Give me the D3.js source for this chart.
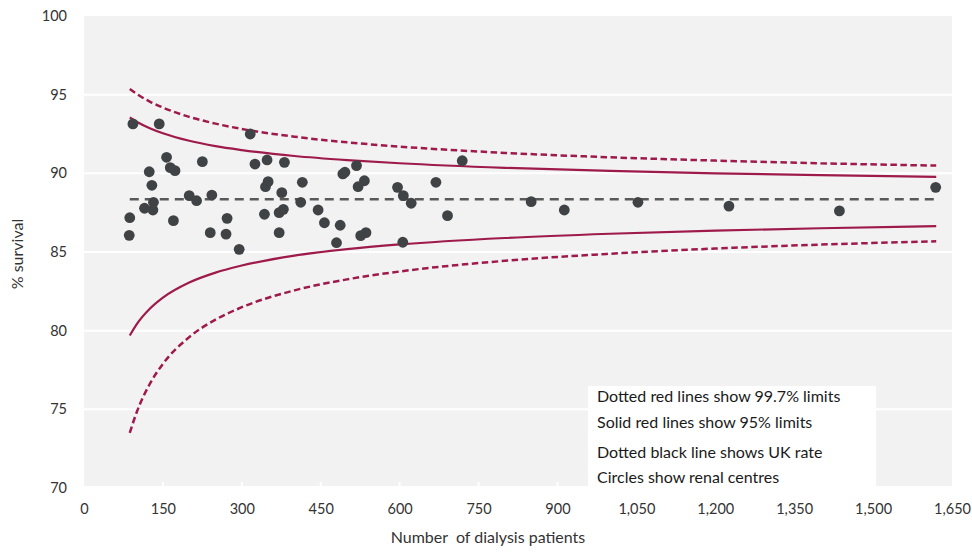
<!DOCTYPE html>
<html>
<head>
<meta charset="utf-8">
<script src="https://cdn.jsdelivr.net/npm/d3@7"></script>
<style>
  html, body { margin: 0; padding: 0; background: #ffffff; }
  svg { display: block; }
  text { font-family: Lato, "Open Sans", "Liberation Sans", sans-serif; }
</style>
</head>
<body>
<svg id="chart" width="972" height="552"></svg>
<script>
// ---- data ----
const centreN = [93, 143, 316, 157, 325, 225, 124, 164, 173, 129, 200, 214, 243, 132, 115, 131, 87, 170, 272, 343, 86, 240, 270, 295,
  348, 381, 350, 345, 415, 376, 412, 379, 371, 445, 457, 487, 371, 496, 492, 518, 533, 521, 536, 526, 480,
  596, 607, 622, 669, 691, 719, 606, 850, 913, 1053, 1226, 1436, 1619];
const centreSurvival = [93.14, 93.14, 92.50, 91.02, 90.59, 90.74, 90.10, 90.36, 90.17, 89.24, 88.58, 88.26, 88.62, 88.16, 87.78, 87.67, 87.18, 86.99, 87.14, 87.40, 86.06, 86.23, 86.14, 85.17,
  90.85, 90.70, 89.47, 89.15, 89.43, 88.77, 88.16, 87.71, 87.50, 87.67, 86.86, 86.70, 86.23, 90.07, 89.96, 90.49, 89.53, 89.15, 86.23, 86.04, 85.59,
  89.11, 88.58, 88.10, 89.43, 87.31, 90.80, 85.62, 88.20, 87.67, 88.16, 87.92, 87.61, 89.11];

const limitN    = [87, 100, 125, 150, 200, 250, 300, 400, 500, 600, 800, 1000, 1200, 1400, 1620];
const upper95   = [93.55, 93.28, 92.87, 92.55, 92.07, 91.73, 91.48, 91.10, 90.84, 90.64, 90.35, 90.15, 90.00, 89.88, 89.78];
const lower95   = [79.69, 80.40, 81.39, 82.10, 83.06, 83.69, 84.14, 84.77, 85.18, 85.48, 85.89, 86.16, 86.36, 86.51, 86.64];
const upper997  = [95.36, 95.05, 94.56, 94.18, 93.59, 93.16, 92.82, 92.33, 91.97, 91.70, 91.30, 91.02, 90.81, 90.64, 90.49];
const lower997  = [73.51, 74.80, 76.61, 77.89, 79.59, 80.70, 81.49, 82.56, 83.26, 83.76, 84.44, 84.89, 85.22, 85.47, 85.68];

const ukRate = 88.35;
const ukRange = [87, 1620];

const xTicks = [0, 150, 300, 450, 600, 750, 900, 1050, 1200, 1350, 1500, 1650];
const yTicks = [70, 75, 80, 85, 90, 95, 100];
const gridValues = [75, 80, 85, 90, 95];

const legendLines = [
  "Dotted red lines show 99.7% limits",
  "Solid red lines show 95% limits",
  "Dotted black line shows UK rate",
  "Circles show renal centres"
];

// ---- chart ----
const svg = d3.select("#chart");
const x = d3.scaleLinear().domain([0, 1650]).range([84, 952]);
const y = d3.scaleLinear().domain([70, 100]).range([488, 16]);

const red = "#9e1a4b";
const textColor = "#333333";

// plot area
svg.append("rect")
  .attr("x", x(0)).attr("y", y(100))
  .attr("width", x(1650) - x(0)).attr("height", 486 - y(100))
  .attr("fill", "#f2f2f2");

// gridlines
svg.append("g").selectAll("line").data(gridValues).join("line")
  .attr("x1", x(0)).attr("x2", x(1650))
  .attr("y1", d => y(d)).attr("y2", d => y(d))
  .attr("stroke", "#ffffff").attr("stroke-width", 2);

// small white tick notches at bottom
svg.append("g").selectAll("line").data(xTicks.slice(1, -1)).join("line")
  .attr("x1", d => x(d)).attr("x2", d => x(d))
  .attr("y1", 482).attr("y2", 486)
  .attr("stroke", "#ffffff").attr("stroke-width", 2);

// axes (labels only)
const xAxis = d3.axisBottom(x).tickValues(xTicks).tickSize(0).tickPadding(0)
  .tickFormat(d3.format(","));
const gx = svg.append("g").attr("transform", "translate(0,503)").call(xAxis);
gx.select(".domain").remove();
gx.selectAll("text").attr("font-size", 14.5).attr("fill", textColor)
  .attr("dy", "0.32em").attr("y", 6);

const yAxis = d3.axisLeft(y).tickValues(yTicks).tickSize(0).tickPadding(0);
const gy = svg.append("g").attr("transform", "translate(67,0)").call(yAxis);
gy.select(".domain").remove();
gy.selectAll("text").attr("font-size", 14.5).attr("fill", textColor).attr("x", 0);

// axis titles
svg.append("text")
  .attr("x", 488).attr("y", 543)
  .attr("text-anchor", "middle").attr("font-size", 16).attr("fill", textColor)
  .attr("xml:space", "preserve")
  .text("Number  of dialysis patients");

svg.append("text")
  .attr("transform", "translate(23,254) rotate(-90)")
  .attr("text-anchor", "middle").attr("font-size", 16).attr("fill", textColor)
  .text("% survival");

// limit lines
const line = d3.line()
  .x((d, i) => x(limitN[i]))
  .y(d => y(d))
  .curve(d3.curveMonotoneX);

function drawLimit(vals, dashed) {
  svg.append("path")
    .attr("d", line(vals))
    .attr("fill", "none")
    .attr("stroke", red)
    .attr("stroke-width", dashed ? 2.5 : 2.2)
    .attr("stroke-dasharray", dashed ? "6.5,3.5" : null);
}
drawLimit(upper997, true);
drawLimit(lower997, true);
drawLimit(upper95, false);
drawLimit(lower95, false);

// UK rate line
svg.append("line")
  .attr("x1", x(ukRange[0])).attr("x2", x(ukRange[1]))
  .attr("y1", y(ukRate)).attr("y2", y(ukRate))
  .attr("stroke", "#595959").attr("stroke-width", 2.5)
  .attr("stroke-dasharray", "9,6");

// centres
svg.append("g").selectAll("circle").data(centreN).join("circle")
  .attr("cx", d => x(d))
  .attr("cy", (d, i) => y(centreSurvival[i]))
  .attr("r", 5.4)
  .attr("fill", "#404345");

// legend box
svg.append("rect")
  .attr("x", 588).attr("y", 386).attr("width", 288).attr("height", 101)
  .attr("fill", "#ffffff");
const legendY = [396, 422, 452, 477];
svg.append("g").selectAll("text").data(legendLines).join("text")
  .attr("x", 597).attr("y", (d, i) => legendY[i])
  .attr("dy", "0.35em")
  .attr("font-size", 16).attr("fill", "#1a1a1a")
  .text(d => d);
</script>
</body>
</html>
